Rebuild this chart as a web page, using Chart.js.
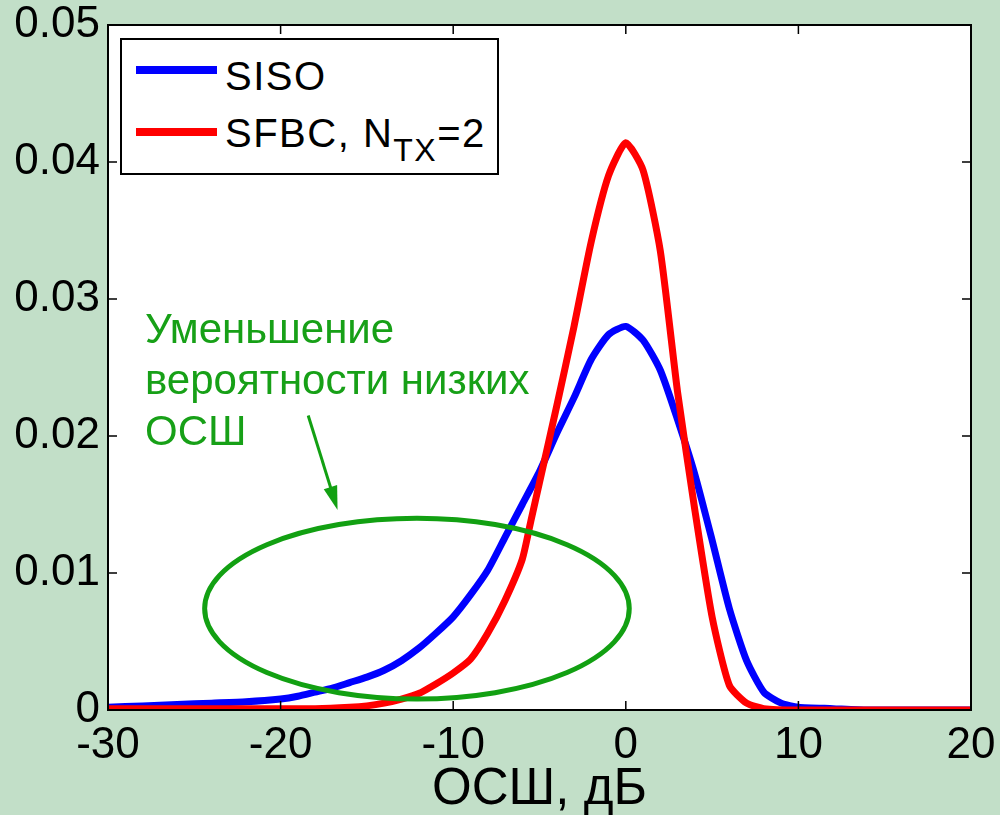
<!DOCTYPE html>
<html>
<head>
<meta charset="utf-8">
<script src="https://cdn.jsdelivr.net/npm/chart.js@4.4.1/dist/chart.umd.min.js"></script>
<style>
  html, body { margin: 0; padding: 0; background: #c2dfc8; }
  #wrap { position: relative; width: 1000px; height: 815px; overflow: hidden; }
  #snrChart { position: absolute; left: 0; top: 0; }
  .legend { position: absolute; left: 120px; top: 38px; width: 375px; height: 133px;
            border: 2px solid #000; background: #fff; }
  .sample { position: absolute; left: 136px; width: 81px; height: 8px; }
  .ltext { position: absolute; left: 225px; font-family: "Liberation Sans", Arial, sans-serif;
           font-size: 40px; line-height: 40px; letter-spacing: 1.5px; color: #000; white-space: nowrap; }
  .ltext sub { font-size: 32px; vertical-align: -14px; line-height: 0; }
  .note { position: absolute; left: 145px; top: 303px; font-family: "Liberation Sans", Arial, sans-serif;
          font-size: 42px; line-height: 51px; color: #17a017; white-space: nowrap; }
</style>
</head>
<body>
<div id="wrap">
  <canvas id="snrChart" width="1000" height="815"></canvas>
  <div class="legend"></div>
  <div class="sample" style="top:66px;background:#0000ff"></div>
  <div class="sample" style="top:128px;background:#ff0000"></div>
  <div class="ltext" style="top:56px">SISO</div>
  <div class="ltext" style="top:113px">SFBC, N<sub>TX</sub>=2</div>
  <div class="note">Уменьшение<br>вероятности низких<br>ОСШ</div>
</div>
<script>
// ОСШ, дБ (ось X)
var snrSiso = [-30, -28, -26, -24, -22, -20, -19, -18, -17, -16, -15, -14, -13, -12, -11, -10, -9, -8, -7, -6, -5, -4, -3, -2, -1, 0, 1, 2, 3, 4, 5, 6, 7, 8, 9, 10, 12, 14, 20];
var pdfSiso = [0.0002, 0.0003, 0.0004, 0.0005, 0.0006, 0.0008, 0.0010, 0.0013, 0.0016, 0.0020, 0.0024, 0.0029, 0.0036, 0.0045, 0.0056, 0.0068, 0.0084, 0.0102, 0.0126, 0.0150, 0.0174, 0.0202, 0.0228, 0.0256, 0.0274, 0.0280, 0.0270, 0.0248, 0.0212, 0.0172, 0.0124, 0.0074, 0.0036, 0.0013, 0.0005, 0.0002, 0.0001, 0, 0];

var snrSfbc = [-30, -25, -20, -18, -16, -15, -14, -13, -12, -11, -10, -9, -8, -7, -6, -5.5, -5, -4, -3, -2, -1, 0, 1, 2, 3, 4, 5, 6, 7, 8, 10, 20];
var pdfSfbc = [0.0001, 0.0001, 0.0001, 0.0001, 0.0002, 0.0003, 0.0005, 0.0008, 0.0012, 0.0019, 0.0027, 0.0037, 0.0056, 0.0080, 0.0110, 0.0138, 0.0166, 0.0222, 0.0280, 0.0342, 0.0390, 0.0414, 0.0394, 0.0335, 0.0232, 0.0146, 0.0068, 0.0018, 0.0005, 0.0001, 0, 0];

var xTicks = [-30, -20, -10, 0, 10, 20];
var yTicks = [0, 0.01, 0.02, 0.03, 0.04, 0.05];
var yTickLabels = ['0', '0.01', '0.02', '0.03', '0.04', '0.05'];

// эллипс и стрелка (в координатах данных)
var ellipse = { x: -12.1, y: 0.0074, rx: 12.3, ry: 0.0066 };
var arrow = { x1: -18.4, y1: 0.0215, x2: -16.7, y2: 0.0146 };

function toPoints(xs, ys) {
    return xs.map(function (x, i) { return { x: x, y: ys[i] }; });
}

var tickFont = { family: '"Liberation Sans", Arial, sans-serif', size: 44 };

// белый фон, рамка, внутренние засечки, эллипс
var boxPlugin = {
    id: 'box',
    beforeDraw: function (chart) {
        var a = chart.chartArea, c = chart.ctx;
        c.save();
        c.fillStyle = '#fff';
        c.fillRect(a.left, a.top, a.right - a.left, a.bottom - a.top);
        c.restore();
    },
    afterDatasetsDraw: function (chart) {
        var a = chart.chartArea, c = chart.ctx;
        var xs = chart.scales.x, ys = chart.scales.y;
        c.save();
        // эллипс
        var cx = xs.getPixelForValue(ellipse.x), cy = ys.getPixelForValue(ellipse.y);
        var rx = xs.getPixelForValue(ellipse.x + ellipse.rx) - cx;
        var ry = cy - ys.getPixelForValue(ellipse.y + ellipse.ry);
        c.strokeStyle = '#12a012';
        c.lineWidth = 5;
        c.beginPath();
        c.ellipse(cx, cy, rx, ry, 0, 0, Math.PI * 2);
        c.stroke();
        // стрелка
        var x1 = xs.getPixelForValue(arrow.x1), y1 = ys.getPixelForValue(arrow.y1);
        var x2 = xs.getPixelForValue(arrow.x2), y2 = ys.getPixelForValue(arrow.y2);
        var ang = Math.atan2(y2 - y1, x2 - x1);
        c.lineWidth = 3;
        c.beginPath();
        c.moveTo(x1, y1);
        c.lineTo(x2 - 15 * Math.cos(ang), y2 - 15 * Math.sin(ang));
        c.stroke();
        c.fillStyle = '#12a012';
        c.beginPath();
        c.moveTo(x2, y2);
        c.lineTo(x2 - 24 * Math.cos(ang) + 7 * Math.sin(ang), y2 - 24 * Math.sin(ang) - 7 * Math.cos(ang));
        c.lineTo(x2 - 24 * Math.cos(ang) - 7 * Math.sin(ang), y2 - 24 * Math.sin(ang) + 7 * Math.cos(ang));
        c.closePath();
        c.fill();
        // рамка
        c.strokeStyle = '#000';
        c.lineWidth = 2;
        c.strokeRect(a.left, a.top, a.right - a.left, a.bottom - a.top);
        // засечки внутрь
        c.lineWidth = 1.5;
        c.beginPath();
        xTicks.forEach(function (v) {
            var px = xs.getPixelForValue(v);
            c.moveTo(px, a.bottom); c.lineTo(px, a.bottom - 9);
            c.moveTo(px, a.top); c.lineTo(px, a.top + 9);
        });
        yTicks.forEach(function (v) {
            var py = ys.getPixelForValue(v);
            c.moveTo(a.left, py); c.lineTo(a.left + 9, py);
            c.moveTo(a.right, py); c.lineTo(a.right - 9, py);
        });
        c.stroke();
        c.restore();
    }
};

var ctx = document.getElementById('snrChart').getContext('2d');
var snrChart = new Chart(ctx, {
    type: 'line',
    data: {
        datasets: [{
            label: 'SISO',
            data: toPoints(snrSiso, pdfSiso),
            borderColor: '#0000ff',
            borderWidth: 7,
            pointRadius: 0,
            tension: 0.2,
            order: 2
        }, {
            label: 'SFBC, NTX=2',
            data: toPoints(snrSfbc, pdfSfbc),
            borderColor: '#ff0000',
            borderWidth: 7,
            pointRadius: 0,
            tension: 0.2,
            order: 1
        }]
    },
    options: {
        responsive: false,
        animation: false,
        layout: { padding: { left: 0, right: 29, top: 25, bottom: 0 } },
        plugins: { legend: { display: false }, tooltip: { enabled: false } },
        scales: {
            x: {
                type: 'linear',
                min: -30,
                max: 20,
                afterBuildTicks: function (s) { s.ticks = xTicks.map(function (v) { return { value: v }; }); },
                afterFit: function (s) { s.height = 105; s.paddingLeft = 0; s.paddingRight = 0; },
                grid: { display: false, drawTicks: false },
                border: { display: false },
                ticks: { font: tickFont, color: '#000', padding: 9, maxRotation: 0, autoSkip: false },
                title: {
                    display: true,
                    text: 'ОСШ, дБ',
                    color: '#000',
                    font: { family: '"Liberation Sans", Arial, sans-serif', size: 51, lineHeight: 1 },
                    padding: 0
                }
            },
            y: {
                min: 0,
                max: 0.05,
                afterBuildTicks: function (s) { s.ticks = yTicks.map(function (v) { return { value: v }; }); },
                afterFit: function (s) { s.width = 108; s.paddingTop = 0; s.paddingBottom = 0; },
                grid: { display: false, drawTicks: false },
                border: { display: false },
                ticks: {
                    font: tickFont, color: '#000', padding: 8, autoSkip: false,
                    callback: function (v) { return yTickLabels[yTicks.indexOf(v)]; }
                }
            }
        }
    },
    plugins: [boxPlugin]
});
</script>
</body>
</html>
